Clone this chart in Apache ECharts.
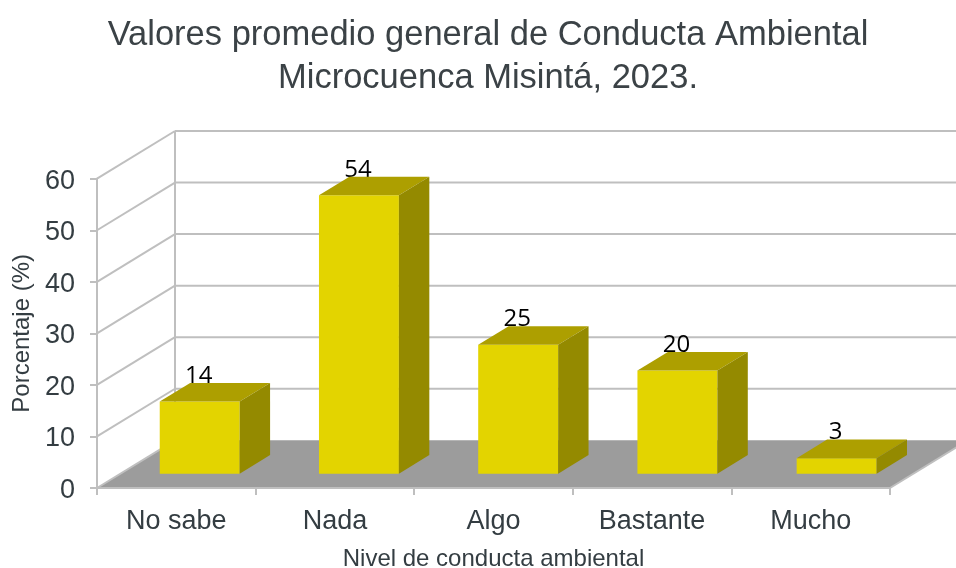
<!DOCTYPE html>
<html><head><meta charset="utf-8">
<style>html,body{margin:0;padding:0;background:#fff}#c{width:956px;height:568px}</style>
<script src="https://cdn.jsdelivr.net/npm/echarts@6/dist/echarts.min.js"></script>
</head><body><div id="c"></div>
<script>
const titleText = 'Valores promedio general de Conducta Ambiental\nMicrocuenca Misintá, 2023.';
const xName = 'Nivel de conducta ambiental';
const yName = 'Porcentaje (%)';
const categories = ['No sabe','Nada','Algo','Bastante','Mucho'];
const values = [14,54,25,20,3];
const yTicks = [0,10,20,30,40,50,60];

const WALL_DX = 78, WALL_DY = -47.7;     // depth of the 3D box
const BAR_IN = 0.3;                       // where bars start in the depth
const BAR_DEPTH = 0.39;                   // bar depth as a share of the box
const BAR_W = 0.504;                      // bar width as a share of the band
const BAR_SPREAD = 1.004;                 // slight widening of the bar row in depth
const GRID = '#bfbfbf', TXT = '#343d42';

function poly(points, fill, z2) {
  return {type:'polygon', z2:z2||0, shape:{points}, style:{fill}};
}
function line(a, b, z2) {
  return {type:'line', z2:z2||0, shape:{x1:a[0],y1:a[1],x2:b[0],y2:b[1]}, style:{stroke:GRID,lineWidth:2,fill:null}};
}
function renderWall(params, api) {
  const v = api.value(0);
  const band = api.size([1,0])[0];
  const left = api.coord([0,v]);
  const x0 = left[0]-band/2, y = left[1];
  const xEnd = api.coord([categories.length-1,v])[0]+band/2;
  const children = [];
  if (v === yTicks[0]) {
    children.push(poly([[x0,y],[x0+WALL_DX,y+WALL_DY],[xEnd+WALL_DX,y+WALL_DY],[xEnd,y]],'#9c9c9c',0));
    children.push(line([xEnd,y],[xEnd+WALL_DX,y+WALL_DY],2));
  } else {
    children.push(line([x0+WALL_DX,y+WALL_DY],[xEnd+WALL_DX,y+WALL_DY],1));
  }
  if (v === yTicks[yTicks.length-1]) {
    const bottom = api.coord([0,yTicks[0]])[1];
    children.push(line([x0+WALL_DX,y+WALL_DY],[x0+WALL_DX,bottom+WALL_DY],1));
  }
  children.push(line([x0,y],[x0+WALL_DX,y+WALL_DY],1));
  return {type:'group',children};
}
function renderBar(params, api) {
  const i = api.value(0), v = api.value(1);
  const band = api.size([1,0])[0];
  const base = api.coord([i,0]), top = api.coord([i,v]);
  const first = api.coord([0,0])[0];
  const w = band*BAR_W;
  const ox = WALL_DX*BAR_IN, oy = WALL_DY*BAR_IN;
  const dx = WALL_DX*BAR_DEPTH, dy = WALL_DY*BAR_DEPTH;
  const cx = first+(base[0]-first)*BAR_SPREAD;
  const xL = cx+ox-w/2, xR = xL+w, yB = base[1]+oy, yT = top[1]+oy;
  return {type:'group',children:[
    {type:'text', z2:1, style:{text:String(v), x:xL+w/2-1, y:yT+dy+5, align:'center', verticalAlign:'bottom',
      font:'24px "Open Sans"', fill:'#000'}},
    poly([[xL,yB],[xR,yB],[xR,yT],[xL,yT]],'#e3d400',2),
    poly([[xL,yT],[xR,yT],[xR+dx,yT+dy],[xL+dx,yT+dy]],'#ad9f00',2),
    poly([[xR,yB],[xR+dx,yB+dy],[xR+dx,yT+dy],[xR,yT]],'#948a00',2)
  ]};
}
const chart = echarts.init(document.getElementById('c'),null,{renderer:'canvas'});
chart.setOption({
  animation:false,
  backgroundColor:'#fff',
  title:{text:titleText,left:488,top:14,padding:0,textAlign:'center',
    textStyle:{fontFamily:'Liberation Sans',fontSize:34.5,fontWeight:'normal',color:'#3b4246',lineHeight:43}},
  grid:{left:97,right:66,top:178.7,bottom:80,outerBoundsMode:'none'},
  xAxis:{type:'category',data:categories,boundaryGap:true,
    axisLine:{lineStyle:{color:GRID,width:2}},
    axisTick:{show:true,length:7,lineStyle:{color:GRID,width:2}},
    axisLabel:{fontFamily:'Liberation Sans',fontSize:27,color:TXT,margin:20},
    name:xName,nameLocation:'middle',nameGap:59,
    nameTextStyle:{fontFamily:'Liberation Sans',fontSize:24,color:TXT},
    z:3},
  yAxis:{type:'value',min:0,max:60,interval:10,
    axisLine:{show:true,lineStyle:{color:GRID,width:2}},
    axisTick:{show:true,length:7,lineStyle:{color:GRID,width:2}},
    axisLabel:{margin:22,formatter:'{a|{value}}',
      rich:{a:{fontFamily:'Liberation Sans',fontSize:27,color:TXT,padding:[5,0,0,0]}}},
    splitLine:{show:false},
    name:yName,nameLocation:'middle',nameGap:62,
    nameTextStyle:{fontFamily:'Liberation Sans',fontSize:24,color:TXT},
    z:3},
  series:[
    {type:'custom',coordinateSystem:'cartesian2d',clip:false,silent:true,z:1,
      renderItem:renderWall,encode:{y:0},data:yTicks.map(v=>[v])},
    {type:'custom',coordinateSystem:'cartesian2d',clip:false,silent:true,z:5,
      renderItem:renderBar,encode:{x:0,y:1},data:values.map((v,i)=>[i,v])}
  ]
});
</script></body></html>
